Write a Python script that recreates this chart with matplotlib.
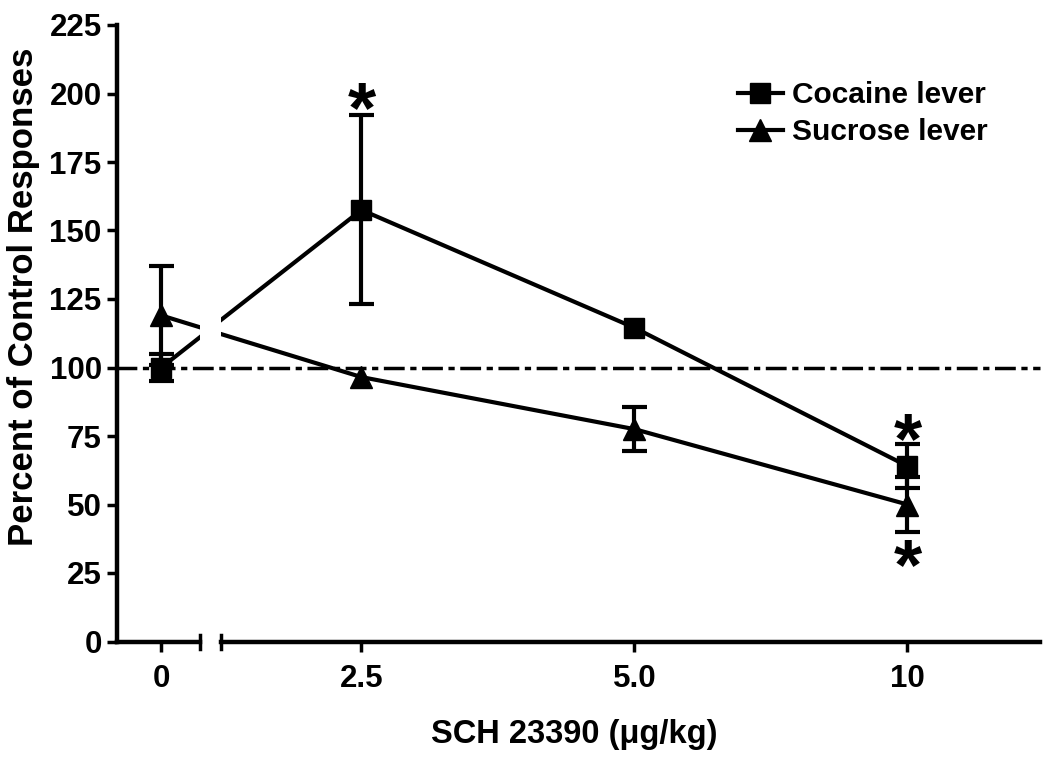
import matplotlib
matplotlib.use('Agg')
import matplotlib.pyplot as plt
from matplotlib.ticker import NullLocator, NullFormatter

plt.rcParams['font.family'] = ['Liberation Sans', 'DejaVu Sans']
plt.rcParams['font.weight'] = 'bold'

# data
doses = [0, 2.5, 5.0, 10]
dose_labels = ['0', '2.5', '5.0', '10']
zero_at = 1.5  # where dose 0 sits on the log axis, left of the break

cocaine = [100, 157.5, 114.5, 64]
cocaine_err = [5, 34.5, 0, 8]   # 0 = bar hidden behind the marker
sucrose = [119, 96.5, 77.5, 50]
sucrose_err = [18, 0, 8, 10]

yticks = list(range(0, 226, 25))

# asterisks (x dose, y value)
stars_x = [2.5, 10, 10]
stars_y = [199, 78, 32]

xpos = [zero_at if d == 0 else d for d in doses]

fig = plt.figure(figsize=(10.5, 7.62), dpi=100)
ax1 = fig.add_axes([117 / 1050, 120.5 / 762, 83 / 1050, 616.5 / 762])
ax2 = fig.add_axes([221 / 1050, 120.5 / 762, 819 / 1050, 616.5 / 762], sharey=ax1)

for ax in (ax1, ax2):
    ax.set_facecolor('none')
    ax.set_xscale('log')
    for ys, es in ((cocaine, cocaine_err), (sucrose, sucrose_err)):
        keep = [i for i, e in enumerate(es) if e > 0]
        ax.errorbar([xpos[i] for i in keep], [ys[i] for i in keep],
                    yerr=[es[i] for i in keep], fmt='none', ecolor='black',
                    elinewidth=3, capsize=9, capthick=3, zorder=2)
    ax.plot(xpos, cocaine, color='black', lw=3, marker='s', ms=15,
            label='Cocaine lever', zorder=3)
    ax.plot(xpos, sucrose, color='black', lw=3, marker='^', ms=16,
            label='Sucrose lever', zorder=3)
    for s in ('top', 'right'):
        ax.spines[s].set_visible(False)
    for s in ('left', 'bottom'):
        ax.spines[s].set_linewidth(3.2)
    ax.tick_params(width=2.5, length=7, labelsize=22.5, direction='out')
    ax.tick_params(axis='x', pad=9)
    ax.tick_params(axis='y', pad=4)
    ax.xaxis.set_minor_locator(NullLocator())
    ax.xaxis.set_minor_formatter(NullFormatter())

ax1.set_xlim(1.34, 1.655)
ax2.set_xlim(1.75, 14.0)
ax1.set_ylim(0, 225)
ax1.set_yticks(yticks)
ax1.set_xticks([zero_at])
ax1.set_xticklabels(dose_labels[:1])
ax2.set_xticks(doses[1:])
ax2.set_xticklabels(dose_labels[1:])
ax2.spines['left'].set_visible(False)
ax2.tick_params(axis='y', left=False, labelleft=False)

# break caps on the x axis
d = 7 / 616.5
ax1.plot([1, 1], [-d, d], transform=ax1.transAxes, color='black', lw=2.5, clip_on=False)
ax2.plot([0, 0], [-d, d], transform=ax2.transAxes, color='black', lw=2.5, clip_on=False)

# reference line at 100 %
ax2.plot([1.34, 14.0], [100, 100], color='black', lw=2.5,
         linestyle=(0, (6, 1.6, 1.8, 1.6)), clip_on=False, zorder=1)

for sx, sy in zip(stars_x, stars_y):
    ax2.annotate('*', (sx, sy), xytext=(0, -12), textcoords='offset points',
                 ha='center', va='center', fontsize=52, fontweight='bold')

ax2.legend(loc='upper left', bbox_to_anchor=(738 / 1050, 1 - 81 / 762),
           bbox_transform=fig.transFigure, frameon=False, fontsize=21.5,
           handlelength=1.5, handletextpad=0.3, borderpad=0, borderaxespad=0,
           labelspacing=0.3)

fig.text(574 / 1050, 1 - 735 / 762, 'SCH 23390 (\u03bcg/kg)', ha='center', va='center', fontsize=23.5)
fig.text(24 / 1050, 1 - 297 / 762, 'Percent of Control Responses', rotation=90,
         ha='center', va='center', fontsize=25)

fig.savefig('out.png', dpi=100)
